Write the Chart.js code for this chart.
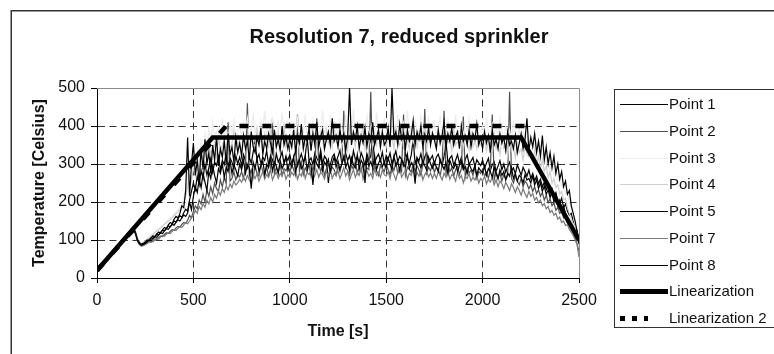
<!DOCTYPE html>
<html>
<head>
<meta charset="utf-8">
<script src="https://cdn.jsdelivr.net/npm/chart.js@4.4.1/dist/chart.umd.min.js"></script>
<style>
  html, body { margin: 0; padding: 0; background: #fff; overflow: hidden; }
  #wrap { position: relative; width: 774px; height: 354px; }
</style>
</head>
<body>
<div id="wrap"><canvas id="c"></canvas></div>
<script>
// ---------- data ----------
const titleText = 'Resolution 7, reduced sprinkler';
const xTitle = 'Time [s]';
const yTitle = 'Temperature [Celsius]';
const xTicks = [0, 500, 1000, 1500, 2000, 2500];
const yTicks = [0, 100, 200, 300, 400, 500];
const seriesNames = ['Point 1', 'Point 2', 'Point 3', 'Point 4', 'Point 5', 'Point 7', 'Point 8', 'Linearization', 'Linearization 2'];

// sample times: every 10 s from 0 to 2500 s
const times = Array.from({length: 251}, (_, i) => i * 10);

const point1 = [
20,26,31,37,43,49,55,61,67,73,79,85,91,97,103,109,115,121,127,130,117,99,91,87,89,
93,97,101,106,104,110,115,113,120,126,124,131,137,135,142,150,147,156,164,160,172,181,176,205,228,
250,232,268,245,283,262,300,271,290,315,278,305,296,320,284,310,298,330,292,316,305,287,322,300,318,
296,325,308,290,318,302,331,360,312,326,300,318,309,335,297,322,311,290,328,305,316,332,301,319,310,
325,300,318,334,296,312,327,305,320,370,308,316,298,329,315,306,337,300,321,313,250,298,318,326,305,
320,336,301,315,328,309,322,298,335,312,318,304,330,316,295,327,310,321,375,303,317,326,308,331,299,
322,312,329,300,318,334,306,320,311,296,328,315,303,324,365,300,316,309,327,298,319,330,305,313,322,
300,318,326,308,295,320,360,303,315,322,297,310,325,301,318,290,312,324,299,308,317,292,311,303,296,
310,289,302,315,283,298,306,280,295,309,285,300,278,293,305,282,290,274,298,285,270,291,280,268,284,
262,275,256,268,248,260,240,252,232,244,222,235,214,225,205,196,210,185,195,176,165,170,150,140,125,
100];

const point2 = [
20,26,31,37,43,49,55,61,67,73,79,85,91,97,103,109,115,121,127,130,119,101,90,85,86,
89,92,96,94,99,103,101,107,111,109,115,119,117,123,127,125,132,136,134,141,146,144,152,165,158,
175,190,182,205,195,220,200,232,215,240,222,250,235,228,258,240,265,248,410,255,262,280,258,272,266,
280,262,290,460,270,285,265,295,275,268,300,280,272,292,268,285,420,274,290,278,298,270,288,282,295,
276,300,285,270,430,282,305,272,290,280,300,268,292,284,420,302,280,295,270,288,300,278,292,285,270,
295,280,302,440,290,283,270,298,285,308,276,292,280,300,272,290,285,490,278,294,282,270,296,288,280,
300,285,272,296,283,305,275,290,280,430,270,292,286,278,302,280,295,284,270,298,445,276,292,282,300,
278,292,285,270,296,440,275,298,280,290,268,285,295,272,288,425,265,290,276,284,270,292,262,280,275,
285,268,278,262,285,430,258,280,265,275,255,272,260,268,490,262,250,268,255,245,262,240,255,248,235,
245,228,240,222,232,215,225,205,218,198,208,190,198,178,186,170,175,158,162,145,150,130,120,105,90,
70];

const point3 = [
20,26,32,38,44,50,56,62,68,74,80,86,92,98,104,110,116,122,128,131,121,104,95,92,95,
99,104,108,113,117,121,126,130,135,139,144,148,153,158,163,168,174,180,186,195,210,235,260,300,280,
320,290,340,310,360,330,380,345,395,360,410,370,385,400,355,420,375,395,365,405,380,415,370,390,400,
375,410,385,420,365,395,430,380,400,370,415,390,440,375,405,385,420,395,370,410,390,430,380,400,415,
390,360,405,375,420,365,395,380,430,370,400,385,415,360,395,410,375,440,385,400,368,420,380,395,410,
375,415,390,365,430,385,400,372,445,390,380,410,365,400,388,425,375,395,410,370,435,385,400,378,415,
390,370,420,385,400,365,430,380,395,410,372,440,388,400,375,415,392,368,425,385,400,375,420,390,380,
410,378,395,425,370,400,388,415,372,405,380,430,368,395,410,375,400,385,420,370,392,405,378,398,385,
400,375,415,385,365,405,380,395,370,420,385,360,400,375,390,365,410,380,370,395,360,385,372,350,380,
355,370,340,360,330,350,315,335,300,320,285,305,270,285,255,265,240,245,220,225,200,185,165,140,115,
95];

const point4 = [
20,26,32,38,44,50,56,62,68,74,80,86,92,98,104,110,116,122,128,131,120,103,94,90,93,
97,101,106,110,114,119,123,127,132,136,141,145,150,154,159,164,169,174,180,188,198,215,240,270,255,
290,270,315,285,330,300,345,310,360,325,340,355,320,370,335,350,365,330,375,340,355,385,345,360,350,
340,375,350,365,330,380,355,345,390,350,365,335,380,360,345,395,355,370,340,385,350,365,400,345,370,
355,340,380,350,365,335,390,355,345,375,360,340,395,350,370,345,380,360,335,385,355,370,345,400,360,
350,385,345,370,360,335,395,355,375,345,380,350,365,400,340,370,355,385,345,365,350,390,340,375,360,
345,380,355,370,340,395,360,350,385,345,375,360,340,390,355,370,345,380,360,350,395,340,370,355,375,
360,345,385,350,370,340,380,355,365,335,390,350,360,345,375,340,370,355,335,380,345,360,340,370,350,
345,370,335,360,345,330,375,340,355,325,365,340,350,320,360,335,345,315,355,330,340,310,345,325,320,
330,310,335,300,320,290,310,280,295,265,280,250,262,238,245,220,228,205,210,185,170,155,140,120,105,
85];

const point5 = [
21,27,32,38,44,50,56,62,68,74,80,86,92,98,104,110,116,122,128,132,120,102,93,89,91,
95,100,98,105,111,108,116,121,118,127,133,130,140,146,143,155,162,158,170,190,185,230,370,215,300,
355,270,310,250,340,285,365,300,330,275,350,310,372,295,340,318,360,300,380,325,345,305,370,330,355,
320,375,340,360,310,385,345,330,370,350,395,325,360,340,380,355,330,390,345,365,335,400,350,372,340,
365,345,390,330,375,355,405,340,370,360,395,335,380,350,410,345,372,390,340,365,385,350,420,360,375,
345,390,360,380,335,370,500,350,385,365,400,340,375,355,395,345,380,360,410,350,370,390,345,385,350,
360,395,345,500,370,385,350,405,365,380,340,390,360,375,415,350,385,365,400,345,378,360,395,350,382,
365,340,390,355,375,410,345,380,360,395,350,372,385,340,400,360,375,350,390,345,380,365,405,350,370,
340,385,355,375,330,390,350,365,340,380,355,370,335,385,350,360,340,375,330,355,380,340,365,420,335,
370,345,380,330,360,320,375,310,345,300,330,290,320,275,300,260,280,240,255,220,230,190,170,150,120,
95];

const point7 = [
20,25,31,37,43,49,55,61,67,73,79,85,91,97,103,109,115,121,127,129,114,97,88,84,85,
88,91,94,97,95,100,104,102,108,112,110,115,119,117,123,127,125,131,135,133,140,145,143,150,158,
165,178,170,188,180,196,186,205,195,212,200,220,210,228,218,235,225,242,232,248,238,255,245,250,260,
252,265,255,270,258,248,272,262,275,255,268,280,260,272,265,285,258,270,278,262,275,268,282,260,272,
265,278,270,285,260,275,268,290,262,278,272,282,258,270,285,265,278,272,260,280,268,288,262,275,270,
282,262,275,290,268,280,258,272,285,265,278,270,292,260,276,282,268,275,262,288,270,278,265,284,272,
268,280,262,285,272,258,278,290,265,275,282,260,276,270,288,262,278,268,284,258,272,280,266,276,262,
275,262,280,270,258,276,265,282,260,272,268,255,278,262,270,250,268,262,275,255,265,258,270,250,262,
255,268,248,260,252,265,245,258,240,255,248,235,252,242,230,248,238,225,240,230,218,235,222,212,228,
215,222,205,212,198,205,190,196,182,188,172,178,165,170,155,160,146,150,138,140,128,120,112,100,88,
55];

const point8 = [
19,25,30,36,42,48,54,60,66,72,78,84,90,96,102,108,114,120,126,129,116,98,90,86,88,
91,95,100,98,104,109,107,114,119,117,124,130,128,135,141,139,147,153,150,158,166,162,171,200,180,
215,240,225,260,238,275,252,230,280,262,295,270,250,288,275,300,265,292,280,310,275,298,285,268,300,
285,310,275,298,290,235,305,288,315,280,296,308,272,300,290,318,282,305,295,275,310,288,300,320,283,
305,292,318,280,300,312,288,296,322,285,308,298,245,315,300,290,326,283,305,296,312,280,300,318,292,
308,286,300,320,292,305,283,316,298,290,325,287,310,300,250,318,295,306,290,322,285,302,312,293,305,
290,315,300,285,320,296,308,282,312,300,292,325,288,304,297,248,316,302,290,310,295,284,318,300,289,
305,292,280,312,298,286,304,275,310,295,288,302,280,297,308,285,293,275,300,288,280,296,270,290,282,
278,295,270,288,280,265,292,275,260,285,270,280,258,276,268,290,262,275,255,270,265,250,272,258,262,
250,268,245,258,236,250,228,242,220,232,212,225,200,215,192,205,180,190,170,160,150,140,130,118,108,
90];

const linTimes = [0, 600, 2200, 2500];
const linValues = [20, 370, 370, 100];
const lin2Times = [0, 670, 2220];
const lin2Values = [20, 400, 400];

// ---------- chart ----------
const pts = (ts, vs) => vs.map((v, i) => ({x: ts[i], y: v}));
const pointSeries = [point1, point2, point3, point4, point5, point7, point8];
const pointColors = ['#000000', '#505050', '#ececec', '#cfcfcf', '#000000', '#7a7a7a', '#000000'];

const datasets = pointSeries.map((s, i) => ({
  label: seriesNames[i],
  data: pts(times, s),
  borderColor: pointColors[i],
  borderWidth: 1.2,
  legendWidth: 1,
  pointRadius: 0,
  tension: 0,
  order: 8 - i
}));
datasets.push({
  label: seriesNames[7], data: pts(linTimes, linValues),
  borderColor: '#000', borderWidth: 4.5, pointRadius: 0, tension: 0, order: 1,
  legendWidth: 5
});
datasets.push({
  label: seriesNames[8], data: pts(lin2Times, lin2Values),
  borderColor: '#000', borderWidth: 4.5, borderDash: [9, 14], pointRadius: 0, tension: 0, order: 0,
  legendWidth: 5, legendDash: [5, 7], legendEnd: 648
});

const FONT = '"Liberation Sans", Arial, Helvetica, sans-serif';
Chart.defaults.font.family = FONT;

const decor = {
  id: 'decor',
  beforeDraw(chart) {
    const c = chart.ctx;
    c.save();
    c.fillStyle = '#fff';
    c.fillRect(0, 0, chart.width, chart.height);
    c.strokeStyle = '#333';
    c.lineWidth = 1.5;
    c.strokeRect(11.25, 10.75, 1000, 600);
    c.restore();
  },
  beforeDatasetsDraw(chart) {
    const {ctx: c, chartArea: a} = chart;
    c.save();
    c.strokeStyle = '#8c8c8c';
    c.lineWidth = 1;
    c.beginPath();
    c.moveTo(a.left, Math.round(a.top) + 0.5);
    c.lineTo(Math.round(a.right) + 0.5, Math.round(a.top) + 0.5);
    c.lineTo(Math.round(a.right) + 0.5, a.bottom);
    c.stroke();
    c.restore();
  },
  afterDraw(chart) {
    const c = chart.ctx;
    c.save();
    // title
    c.fillStyle = '#111';
    c.font = 'bold 20px ' + FONT;
    c.textAlign = 'center';
    c.textBaseline = 'middle';
    c.fillText(titleText, 399, 37);
    // legend box
    c.strokeStyle = '#333';
    c.lineWidth = 1;
    c.strokeRect(614.5, 89.5, 400, 238);
    c.font = '15px ' + FONT;
    c.textAlign = 'left';
    c.fillStyle = '#111';
    chart.data.datasets.forEach((ds, i) => {
      const y = 104 + i * 26.75;
      c.save();
      c.strokeStyle = ds.borderColor;
      c.lineWidth = ds.legendWidth || ds.borderWidth;
      c.setLineDash(ds.legendDash || []);
      c.beginPath();
      c.moveTo(620, Math.round(y) + 0.5);
      c.lineTo(ds.legendEnd || 668, Math.round(y) + 0.5);
      c.stroke();
      c.restore();
      c.fillText(ds.label, 669, y + 1);
    });
    c.restore();
  }
};

const edgeHidden = (lo, hi) => (ctx) => (ctx.tick && (ctx.tick.value === lo || ctx.tick.value === hi)) ? 'rgba(0,0,0,0)' : '#333';

new Chart(document.getElementById('c'), {
  type: 'line',
  data: { datasets },
  plugins: [decor],
  options: {
    responsive: true,
    maintainAspectRatio: false,
    animation: false,
    layout: { padding: { left: 0, top: 88, right: 195, bottom: 0 } },
    plugins: { legend: { display: false }, title: { display: false }, tooltip: { enabled: false } },
    scales: {
      x: {
        type: 'linear', min: 0, max: 2500,
        afterBuildTicks: s => { s.ticks = xTicks.map(v => ({value: v})); },
        afterFit: s => { s.height = 76; },
        grid: { color: edgeHidden(0, 2500), lineWidth: 1, tickLength: 5, tickColor: '#000', drawTicks: true },
        border: { display: true, color: '#000', width: 1, dash: [7, 4.5] },
        ticks: { color: '#111', font: { size: 16 }, padding: 8, maxRotation: 0, autoSkip: false, callback: v => String(v) },
        title: { display: true, text: xTitle, color: '#111', font: { size: 16, weight: 'bold' }, padding: { top: 0, bottom: 13 } }
      },
      y: {
        type: 'linear', min: 0, max: 500,
        afterBuildTicks: s => { s.ticks = yTicks.map(v => ({value: v})); },
        afterFit: s => { s.width = 97; },
        grid: { color: edgeHidden(0, 500), lineWidth: 1, tickLength: 6, tickColor: '#000', drawTicks: true },
        border: { display: true, color: '#000', width: 1, dash: [7, 4.5] },
        ticks: { color: '#111', font: { size: 16 }, padding: 6, callback: v => String(v) },
        title: { display: true, text: yTitle, color: '#111', font: { size: 16, weight: 'bold' }, padding: { top: 30, bottom: 0 } }
      }
    }
  }
});
</script>
</body>
</html>
